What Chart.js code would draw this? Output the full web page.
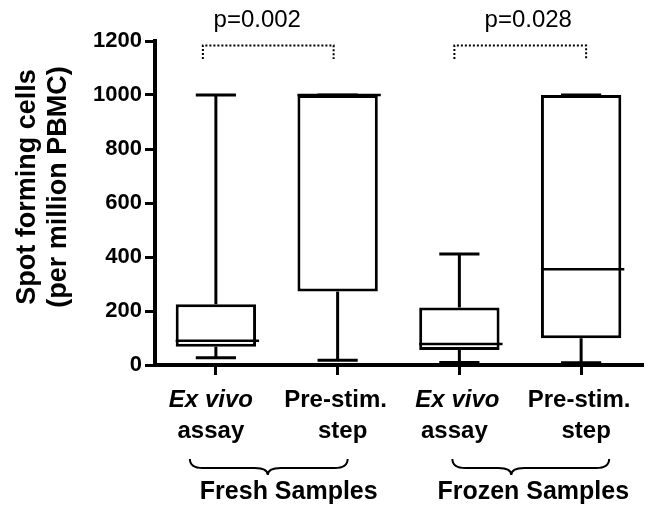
<!DOCTYPE html>
<html><head><meta charset="utf-8">
<script src="https://cdn.jsdelivr.net/npm/chart.js@4"></script>
<style>html,body{margin:0;padding:0;background:#fff}</style>
</head><body>
<canvas id="c" width="649" height="507"></canvas>
<script>
// ---- data ----
const categories = ["Fresh Ex vivo", "Fresh Pre-stim.", "Frozen Ex vivo", "Frozen Pre-stim."];
const labelLine1 = ["Ex vivo", "Pre-stim.", "Ex vivo", "Pre-stim."];
const labelLine2 = ["assay", "step", "assay", "step"];
const line1Italic = [true, false, true, false];
const whiskerMin = [27, 18, 9, 8];
const quartile1 = [68, 272, 56, 99];
const medians = [90, 1000, 78, 355];
const quartile3 = [225, 1000, 213, 1000];
const whiskerMax = [1000, 1000, 411, 1000];
const yTickValues = [0, 200, 400, 600, 800, 1000, 1200];
const yTitleLines = ["Spot forming cells", "(per million PBMC)"];
const groupNames = ["Fresh Samples", "Frozen Samples"];
const groupMembers = [[0, 1], [2, 3]];
const pValues = ["p=0.002", "p=0.028"];

// ---- styling / annotation geometry ----
const FONT = '"Liberation Sans", Arial, Helvetica, sans-serif';
const bracketGeom = [ {l:-13, r:-4, tx:-11}, {l:-5, r:5, tx:8} ];   // px offsets from category centers
const braceGeom = [ {l:-26, r:10, m:-9, tx:12}, {l:-7, r:28, m:-9, tx:13} ];

const boxData = categories.map((c, i) => [quartile1[i], quartile3[i]]);

const extras = {
  id: 'boxExtras',
  afterDatasetsDraw(chart) {
    const ctx = chart.ctx, y = chart.scales.y;
    const meta = chart.getDatasetMeta(0);
    ctx.save();
    ctx.strokeStyle = '#000';
    ctx.lineCap = 'butt';
    const seg = (x1, y1, x2, y2) => { ctx.beginPath(); ctx.moveTo(x1, y1); ctx.lineTo(x2, y2); ctx.stroke(); };
    meta.data.forEach((bar, i) => {
      const cx = bar.x, half = bar.width / 2, cap = half / 2;
      const pMax = y.getPixelForValue(whiskerMax[i]);
      const pQ3 = y.getPixelForValue(quartile3[i]);
      const pQ1 = y.getPixelForValue(quartile1[i]);
      const pMin = y.getPixelForValue(whiskerMin[i]);
      const pMed = y.getPixelForValue(medians[i]);
      ctx.lineWidth = 3;
      if (pMax < pQ3) seg(cx, pQ3, cx, pMax);
      seg(cx - cap, pMax, cx + cap, pMax);
      if (pMin > pQ1) seg(cx, pQ1, cx, pMin);
      seg(cx - cap, pMin, cx + cap, pMin);
      ctx.lineWidth = 2.5;
      seg(cx - half, pMed, cx + half + 3, pMed);
    });
    ctx.restore();
  },
  afterDraw(chart) {
    const ctx = chart.ctx, x = chart.scales.x, y = chart.scales.y;
    const area = chart.chartArea;
    ctx.save();
    ctx.fillStyle = '#000';
    ctx.strokeStyle = '#000';
    // y title
    ctx.font = 'bold 27px ' + FONT;
    ctx.textAlign = 'center';
    ctx.textBaseline = 'middle';
    yTitleLines.forEach((t, k) => {
      ctx.save();
      ctx.translate(28 + k * 31, 187);
      ctx.rotate(-Math.PI / 2);
      ctx.fillText(t, 0, 0);
      ctx.restore();
    });
    // x labels
    ctx.textBaseline = 'alphabetic';
    categories.forEach((c, i) => {
      const cx = x.getPixelForValue(i);
      ctx.font = (line1Italic[i] ? 'italic ' : '') + 'bold 24px ' + FONT;
      ctx.fillText(labelLine1[i], cx - (i === 0 ? 5 : 2), area.bottom + 42);
      ctx.font = 'bold 24px ' + FONT;
      ctx.fillText(labelLine2[i], cx + (i % 2 ? 5 : -5), area.bottom + 73);
    });
    // brackets with p values
    const yTop = y.getPixelForValue(1183), yBot = y.getPixelForValue(1133);
    groupMembers.forEach((g, k) => {
      const g0 = bracketGeom[k];
      const xa = x.getPixelForValue(g[0]) + g0.l, xb = x.getPixelForValue(g[1]) + g0.r;
      ctx.lineWidth = 2;
      ctx.setLineDash([2, 2]);
      ctx.beginPath();
      ctx.moveTo(xa, yBot); ctx.lineTo(xa, yTop); ctx.lineTo(xb, yTop); ctx.lineTo(xb, yBot);
      ctx.stroke();
      ctx.setLineDash([]);
      ctx.font = '24px ' + FONT;
      ctx.fillText(pValues[k], (xa + xb) / 2 + g0.tx, area.top - 14);
    });
    // braces and group labels
    groupMembers.forEach((g, k) => {
      const bg = braceGeom[k];
      const c0 = x.getPixelForValue(g[0]), c1 = x.getPixelForValue(g[1]);
      const x1 = c0 + bg.l, x2 = c1 + bg.r, xm = (c0 + c1) / 2 + bg.m;
      const yT = area.bottom + 94, yM = area.bottom + 103, yTip = area.bottom + 110, r = 13;
      ctx.lineWidth = 2;
      ctx.beginPath();
      ctx.moveTo(x1, yT);
      ctx.quadraticCurveTo(x1, yM, x1 + r, yM);
      ctx.lineTo(xm - r, yM);
      ctx.quadraticCurveTo(xm, yM, xm, yTip);
      ctx.quadraticCurveTo(xm, yM, xm + r, yM);
      ctx.lineTo(x2 - r, yM);
      ctx.quadraticCurveTo(x2, yM, x2, yT);
      ctx.stroke();
      ctx.font = 'bold 25px ' + FONT;
      ctx.fillText(groupNames[k], (c0 + c1) / 2 + bg.tx, area.bottom + 134);
    });
    ctx.restore();
  }
};

new Chart(document.getElementById('c'), {
  type: 'bar',
  data: {
    labels: categories,
    datasets: [{
      data: boxData,
      backgroundColor: '#ffffff',
      borderColor: '#000000',
      borderWidth: 3,
      borderSkipped: false,
      barPercentage: 0.66,
      categoryPercentage: 1
    }]
  },
  options: {
    responsive: false,
    animation: false,
    devicePixelRatio: 1,
    layout: { padding: { top: 41, right: 7, left: 0, bottom: 0 } },
    plugins: { legend: { display: false }, tooltip: { enabled: false } },
    scales: {
      x: {
        type: 'category',
        offset: true,
        grid: { display: true, drawOnChartArea: false, drawTicks: true, tickLength: 10, lineWidth: 3, color: '#000', offset: false },
        border: { display: true, width: 4, color: '#000' },
        ticks: { display: false },
        afterFit(s) { s.height = 142; }
      },
      y: {
        min: 0, max: 1200,
        afterBuildTicks(s) { s.ticks = yTickValues.map(v => ({ value: v })); },
        grid: { display: true, drawOnChartArea: false, drawTicks: true, tickLength: 10, lineWidth: 3, color: '#000' },
        border: { display: true, width: 4, color: '#000' },
        ticks: { color: '#000', padding: 3, font: { family: FONT, size: 22, weight: 'bold' }, callback: v => String(v) },
        afterFit(s) { s.width = 155; }
      }
    }
  },
  plugins: [extras]
});
</script>
</body></html>
